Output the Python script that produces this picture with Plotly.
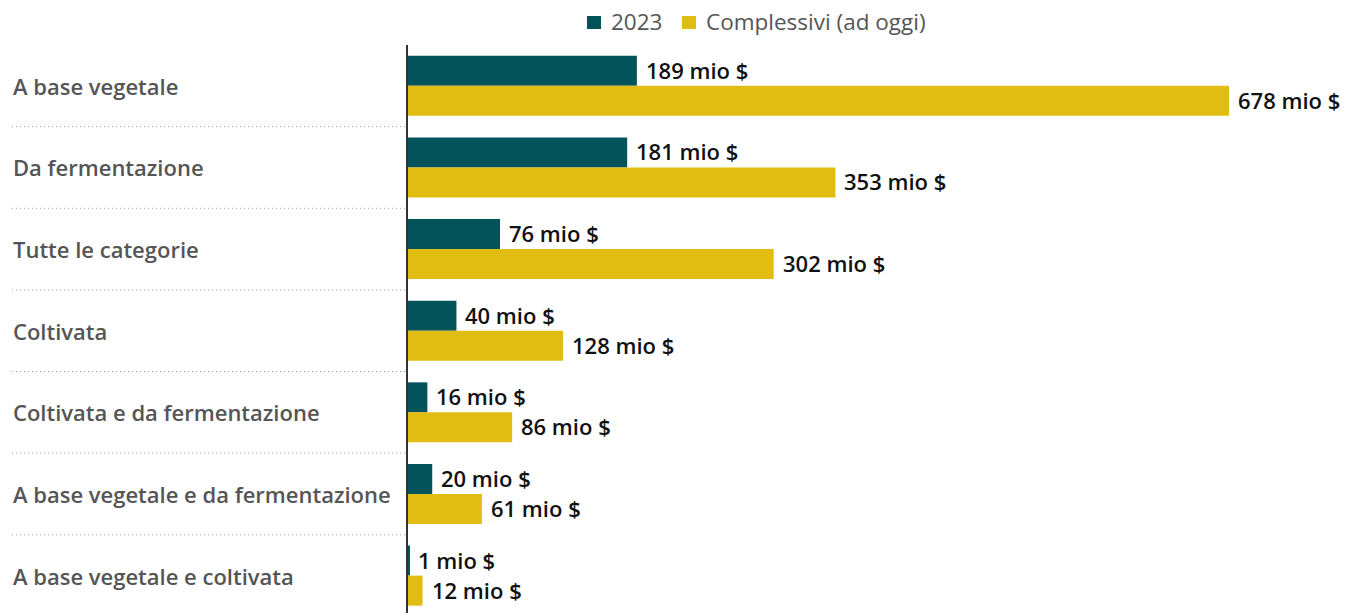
import plotly.graph_objects as go

# Investment by protein category (million $)
categories = [
    "A base vegetale",
    "Da fermentazione",
    "Tutte le categorie",
    "Coltivata",
    "Coltivata e da fermentazione",
    "A base vegetale e da fermentazione",
    "A base vegetale e coltivata",
]
values_2023 = [189, 181, 76, 40, 16, 20, 1]
values_total = [678, 353, 302, 128, 86, 61, 12]
series_names = ["2023", "Complessivi (ad oggi)"]

TEAL = "#03535b"
GOLD = "#e1bd14"
FONT = "Open Sans"

W, H = 1358, 613
L, T = 408, 45
plot_w = W - L
plot_h = H - T
x_max = 784.5
y_range = [6.458, -0.5]
bar_w = 0.3676

pos = list(range(len(categories)))
colors = [TEAL, GOLD]

fig = go.Figure()
for name, vals, col in zip(series_names, [values_2023, values_total], colors):
    fig.add_trace(go.Bar(y=pos, x=vals, orientation="h", name=name,
                         marker=dict(color=col, line=dict(width=0))))


def px_x(px):
    return (px - L) / plot_w


def px_y(py):
    return 1 - (py - T) / plot_h


annotations = []
shapes = []

# value labels next to each bar end
for i, (a, b) in enumerate(zip(values_2023, values_total)):
    for v, dy in ((a, -bar_w / 2), (b, bar_w / 2)):
        annotations.append(dict(
            x=v, y=i + dy, xref="x", yref="y", text=f"{v} mio $",
            showarrow=False, xanchor="left", yanchor="middle", xshift=7, yshift=1,
            font=dict(family=FONT, size=22, color="#111111", weight=600),
        ))

# left-aligned category labels
lab_x = px_x(11)
for i, c in enumerate(categories):
    annotations.append(dict(
        x=lab_x, y=i, xref="paper", yref="y", text=c, showarrow=False,
        xanchor="left", yanchor="middle",
        font=dict(family=FONT, size=22, color="#555555", weight=600),
    ))

# dotted separators between categories
for i in range(len(categories) - 1):
    shapes.append(dict(type="line", xref="paper", yref="y",
                       x0=px_x(12), x1=px_x(405), y0=i + 0.5, y1=i + 0.5,
                       line=dict(color="#a0a0a0", width=1, dash="1px,3px")))

# legend: coloured squares followed by series names
legend_items = [(587, 609), (682, 704)]
for (sq_x, txt_x), name, col in zip(legend_items, series_names, colors):
    shapes.append(dict(type="rect", xref="paper", yref="paper",
                       x0=px_x(sq_x), x1=px_x(sq_x + 14), y0=px_y(29), y1=px_y(16),
                       fillcolor=col, line=dict(width=0)))
    annotations.append(dict(
        x=px_x(txt_x), y=px_y(21), xref="paper", yref="paper", text=name,
        showarrow=False, xanchor="left", yanchor="middle",
        font=dict(family=FONT, size=22.5, color="#555555", weight=500),
    ))

fig.update_layout(
    width=W, height=H,
    margin=dict(l=L, r=0, t=T, b=0),
    paper_bgcolor="white", plot_bgcolor="white",
    barmode="group", bargap=1 - 2 * bar_w, bargroupgap=0,
    xaxis=dict(range=[0, x_max], visible=False, fixedrange=True),
    yaxis=dict(range=y_range, showticklabels=False, showgrid=False, zeroline=False,
               showline=True, linecolor="#333333", linewidth=2, ticks=""),
    showlegend=False,
    annotations=annotations,
    shapes=shapes,
)

fig.write_html("out.html")
